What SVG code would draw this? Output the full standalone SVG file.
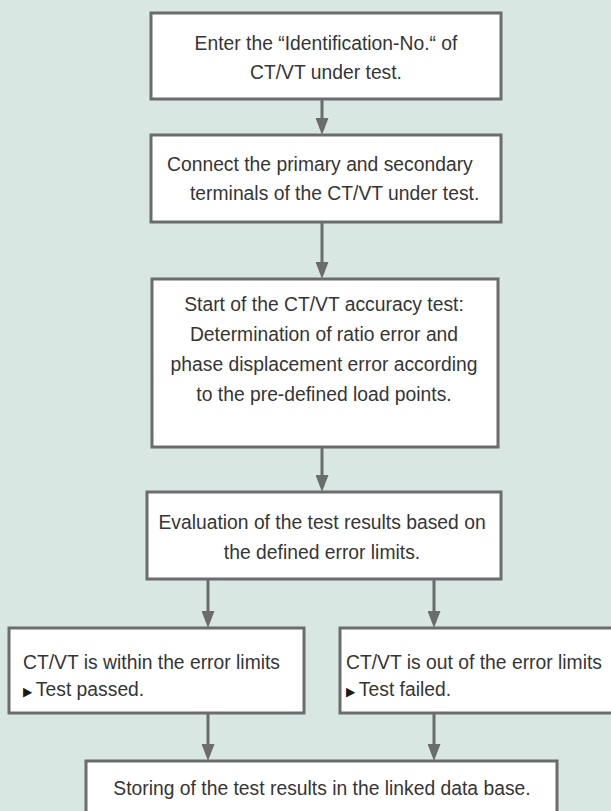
<svg xmlns="http://www.w3.org/2000/svg" width="611" height="811" viewBox="0 0 611 811">
<defs>
<style>
.box{fill:#ffffff;stroke:#6b6c6e;stroke-width:3}
.t{font-family:"Liberation Sans",Arial,sans-serif;font-size:21px;fill:#353535}
.c{text-anchor:middle}
.conn line{stroke:#6b6c6e;stroke-width:3}
.tri{font-family:"DejaVu Sans",sans-serif;font-size:13px;fill:#1a1a1a}
</style>
<marker id="ah" viewBox="0 0 17 13" refX="11" refY="6.5" markerWidth="17" markerHeight="13" markerUnits="userSpaceOnUse" orient="auto">
<path d="M0,0 L17,6.5 L0,13 z" fill="#6b6c6e"/>
</marker>
</defs>
<rect x="0" y="0" width="611" height="811" fill="#d9e7e2"/>
<g id="connectors" class="conn">
<line x1="322" y1="99" x2="322" y2="129" marker-end="url(#ah)"/>
<line x1="322" y1="222" x2="322" y2="273" marker-end="url(#ah)"/>
<line x1="322" y1="447" x2="322" y2="486" marker-end="url(#ah)"/>
<line x1="208" y1="579" x2="208" y2="622" marker-end="url(#ah)"/>
<line x1="434" y1="579" x2="434" y2="622" marker-end="url(#ah)"/>
<line x1="208" y1="713" x2="208" y2="755" marker-end="url(#ah)"/>
<line x1="434" y1="713" x2="434" y2="755" marker-end="url(#ah)"/>
</g>
<g id="n1">
<rect class="box" x="151" y="13" width="350" height="86"/>
<text class="t c" transform="translate(326,50) scale(0.92,1)">Enter the “Identification-No.“ of</text>
<text class="t c" transform="translate(326,79) scale(0.92,1)">CT/VT under test.</text>
</g>
<g id="n2">
<rect class="box" x="151" y="135" width="350" height="87"/>
<text class="t" transform="translate(167,171) scale(0.92,1)">Connect the primary and secondary</text>
<text class="t" transform="translate(190,200) scale(0.92,1)">terminals of the CT/VT under test.</text>
</g>
<g id="n3">
<rect class="box" x="152" y="279" width="346" height="168"/>
<text class="t c" transform="translate(324,311) scale(0.92,1)">Start of the CT/VT accuracy test:</text>
<text class="t c" transform="translate(324,341) scale(0.92,1)">Determination of ratio error and</text>
<text class="t c" transform="translate(324,371) scale(0.92,1)">phase displacement error according</text>
<text class="t c" transform="translate(324,401) scale(0.92,1)">to the pre-defined load points.</text>
</g>
<g id="n4">
<rect class="box" x="147" y="492" width="354" height="87"/>
<text class="t c" transform="translate(322,529) scale(0.92,1)">Evaluation of the test results based on</text>
<text class="t c" transform="translate(322,559) scale(0.92,1)">the defined error limits.</text>
</g>
<g id="n5">
<rect class="box" x="9" y="628" width="295" height="85"/>
<text class="t" transform="translate(23,669) scale(0.92,1)">CT/VT is within the error limits</text>
<text class="t" transform="translate(23,696) scale(0.92,1)"><tspan class="tri">▶</tspan><tspan x="14">Test passed.</tspan></text>
</g>
<g id="n6">
<rect class="box" x="340" y="628" width="296" height="85"/>
<text class="t" transform="translate(346,669) scale(0.92,1)">CT/VT is out of the error limits</text>
<text class="t" transform="translate(346,696) scale(0.92,1)"><tspan class="tri">▶</tspan><tspan x="14">Test failed.</tspan></text>
</g>
<g id="n7">
<rect class="box" x="86" y="761" width="471" height="60"/>
<text class="t c" transform="translate(322,795) scale(0.92,1)">Storing of the test results in the linked data base.</text>
</g>
</svg>
